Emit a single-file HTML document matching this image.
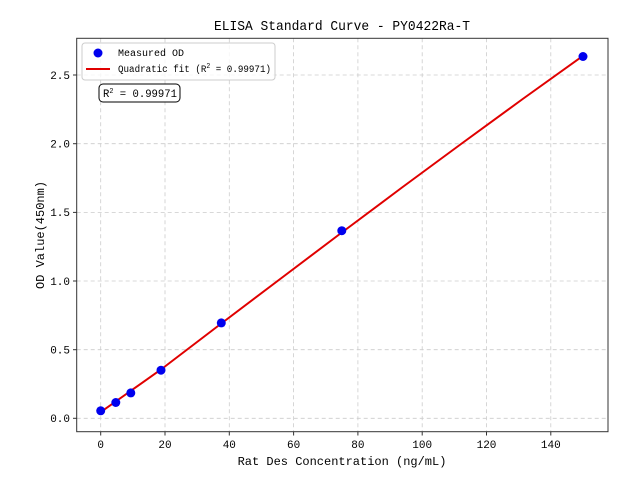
<!DOCTYPE html>
<html><head><meta charset="utf-8"><style>body{margin:0;background:#fff}svg{display:block}text{font-family:"WenQuanYi Zen Hei","Liberation Mono",monospace;fill:#000}</style></head><body>
<svg width="640" height="480" viewBox="0 0 640 480">
<rect width="640" height="480" fill="#fff"/>
<g stroke="#ccc" stroke-dasharray="4,3" stroke-width="0.8">
<line x1="100.7" y1="38.3" x2="100.7" y2="431.7"/><line x1="165" y1="38.3" x2="165" y2="431.7"/><line x1="229.3" y1="38.3" x2="229.3" y2="431.7"/><line x1="293.6" y1="38.3" x2="293.6" y2="431.7"/><line x1="357.9" y1="38.3" x2="357.9" y2="431.7"/><line x1="422.2" y1="38.3" x2="422.2" y2="431.7"/><line x1="486.5" y1="38.3" x2="486.5" y2="431.7"/><line x1="550.8" y1="38.3" x2="550.8" y2="431.7"/>
<line x1="76.7" y1="418.3" x2="608" y2="418.3"/><line x1="76.7" y1="349.7" x2="608" y2="349.7"/><line x1="76.7" y1="281" x2="608" y2="281"/><line x1="76.7" y1="212.4" x2="608" y2="212.4"/><line x1="76.7" y1="143.7" x2="608" y2="143.7"/><line x1="76.7" y1="75" x2="608" y2="75"/>
</g>
<polyline fill="none" stroke="#e00000" stroke-width="2" points="100.7,412.1 161,369.5 221.3,323.5 281.5,278 341.8,232.5 402,187.5 462.4,143 522.7,99 583,55.8"/>
<g fill="#0000ee">
<circle cx="100.7" cy="410.8" r="4.5"/><circle cx="115.8" cy="402.5" r="4.5"/><circle cx="130.8" cy="392.9" r="4.5"/><circle cx="161" cy="370.2" r="4.5"/><circle cx="221.3" cy="322.9" r="4.5"/><circle cx="341.8" cy="230.7" r="4.5"/><circle cx="583" cy="56.5" r="4.5"/>
</g>
<rect x="76.7" y="38.3" width="531.3" height="393.4" fill="none" stroke="#333" stroke-width="1"/>
<g stroke="#333"><line x1="100.7" y1="431.7" x2="100.7" y2="435.5"/><line x1="165" y1="431.7" x2="165" y2="435.5"/><line x1="229.3" y1="431.7" x2="229.3" y2="435.5"/><line x1="293.6" y1="431.7" x2="293.6" y2="435.5"/><line x1="357.9" y1="431.7" x2="357.9" y2="435.5"/><line x1="422.2" y1="431.7" x2="422.2" y2="435.5"/><line x1="486.5" y1="431.7" x2="486.5" y2="435.5"/><line x1="550.8" y1="431.7" x2="550.8" y2="435.5"/>
<line x1="73" y1="418.3" x2="76.7" y2="418.3"/><line x1="73" y1="349.7" x2="76.7" y2="349.7"/><line x1="73" y1="281" x2="76.7" y2="281"/><line x1="73" y1="212.4" x2="76.7" y2="212.4"/><line x1="73" y1="143.7" x2="76.7" y2="143.7"/><line x1="73" y1="75" x2="76.7" y2="75"/></g>
<g font-size="11" text-anchor="middle"><text x="100.7" y="448">0</text><text x="165" y="448">20</text><text x="229.3" y="448">40</text><text x="293.6" y="448">60</text><text x="357.9" y="448">80</text><text x="422.2" y="448">100</text><text x="486.5" y="448">120</text><text x="550.8" y="448">140</text></g>
<g font-size="11" text-anchor="end"><text x="70" y="422">0.0</text><text x="70" y="353.5">0.5</text><text x="70" y="285">1.0</text><text x="70" y="216">1.5</text><text x="70" y="147.5">2.0</text><text x="70" y="79">2.5</text></g>
<text x="342" y="465" font-size="12" text-anchor="middle">Rat Des Concentration (ng/mL)</text>
<text transform="translate(44,235) rotate(-90)" font-size="12" text-anchor="middle">OD Value(450nm)</text>
<text x="214" y="30" font-size="14" textLength="256" lengthAdjust="spacingAndGlyphs">ELISA Standard Curve - PY0422Ra-T</text>
<rect x="82" y="43" width="193" height="37" rx="3" fill="#fff" fill-opacity="0.8" stroke="#ccc"/>
<circle cx="98" cy="53" r="4.5" fill="#0000ee"/>
<line x1="86" y1="69" x2="110" y2="69" stroke="#e00000" stroke-width="2"/>
<text x="118" y="56" font-size="10">Measured OD</text>
<text x="118" y="72" font-size="10" textLength="153" lengthAdjust="spacingAndGlyphs">Quadratic fit (R<tspan font-size="7" dy="-4">2</tspan><tspan dy="4"> = 0.99971)</tspan></text>
<rect x="99" y="84" width="81" height="18" rx="4" fill="#fff" stroke="#000"/>
<text x="103" y="97" font-size="11" textLength="74" lengthAdjust="spacingAndGlyphs">R<tspan font-size="7" dy="-4">2</tspan><tspan dy="4"> = 0.99971</tspan></text>
</svg>
</body></html>
